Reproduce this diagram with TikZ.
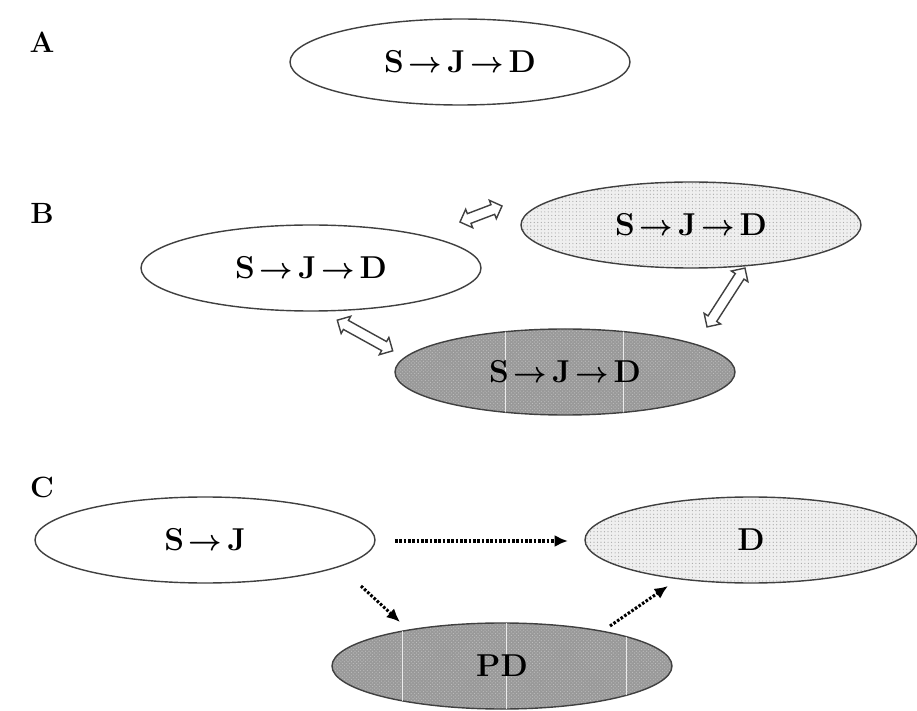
\documentclass[tikz,border=0pt]{standalone}
\usepackage{amsmath,amssymb,bm}
\usetikzlibrary{shapes.geometric,shapes.arrows,arrows.meta,patterns}
\definecolor{darkfill}{HTML}{999999}
\definecolor{lightfill}{HTML}{EFEFEF}
\tikzset{
  ell/.style={ellipse, draw=black!75, line width=1.2pt, inner sep=0pt,
    minimum width=10.2cm, minimum height=2.58cm,
    font=\fontsize{27}{31}\selectfont\bfseries},
  plain/.style={ell, fill=white},
  dotty/.style={ell, preaction={fill=lightfill}, pattern=dots, pattern color=black!35},
  darky/.style={ell, preaction={fill=darkfill}, pattern=crosshatch dots, pattern color=black!25},
  lbl/.style={font=\fontsize{25}{29}\selectfont\bfseries},
  dblarr/.style={double arrow, draw=black!75, fill=white, line width=1.2pt, inner xsep=0pt, inner ysep=3.8pt,
    minimum width=0pt, double arrow head extend=4pt, sloped},
  dotarr/.style={line width=2.6pt, dash pattern=on 2.2pt off 1.5pt, -{Latex[length=0.4cm,width=0.36cm]}},
}
\newcommand{\smallarr}{$\mkern3mu\bm{\rightarrow}\mkern3mu$}
\newcommand{\sjd}{S\smallarr J\smallarr D}
\begin{document}
\begin{tikzpicture}[x=0.03cm,y=-0.03cm]
\useasboundingbox (0,0) rectangle (917,711);
% labels
\node[lbl] (la) at (42,42) {A};
\node[lbl] (lb) at (42,213) {B};
\node[lbl] (lc) at (42,487) {C};
% A
\node[plain] (a) at (460,62) {\sjd};
% B
\node[plain] (bl) at (311,268) {\sjd};
\node[dotty] (br) at (691,225) {\sjd};
\node[darky] (bb) at (565,372) {};
\begin{scope}
  \clip (565,372) ellipse [x radius=170, y radius=43];
  \draw[white, line width=0.8pt, opacity=0.8] (505,320) -- (505,420) (623,320) -- (623,420);
\end{scope}
\node[ell, draw=none] (bbt) at (565,372) {\sjd};
% B double arrows
\coordinate (d1a) at (460,222); \coordinate (d1b) at (502,206);
\coordinate (d2a) at (337,320); \coordinate (d2b) at (393,351);
\coordinate (d3a) at (707,327); \coordinate (d3b) at (745,268);
\path (d1a) -- (d1b) node[midway, dblarr, minimum height=1.35cm] (dd1) {};
\path (d2a) -- (d2b) node[midway, dblarr, minimum height=1.9cm] (dd2) {};
\path (d3a) -- (d3b) node[midway, dblarr, minimum height=2.1cm] (dd3) {};
% C
\node[plain] (cl) at (205,540) {S\smallarr J};
\node[dotty, minimum width=9.96cm] (cr) at (751,540) {D};
\node[darky] (cb) at (502,666) {};
\begin{scope}
  \clip (502,666) ellipse [x radius=170, y radius=43];
  \draw[white, line width=0.8pt, opacity=0.8] (402,610) -- (402,720) (506,610) -- (506,720) (626,610) -- (626,720);
\end{scope}
\node[ell, draw=none] (cbt) at (502,666) {PD};
\coordinate (e1a) at (395,541); \coordinate (e1b) at (568,541);
\coordinate (e2a) at (361,586); \coordinate (e2b) at (400,622);
\coordinate (e3a) at (610,626); \coordinate (e3b) at (668,586);
\draw[dotarr] (e1a) -- (e1b);
\draw[dotarr] (e2a) -- (e2b);
\draw[dotarr] (e3a) -- (e3b);
\end{tikzpicture}
\end{document}
